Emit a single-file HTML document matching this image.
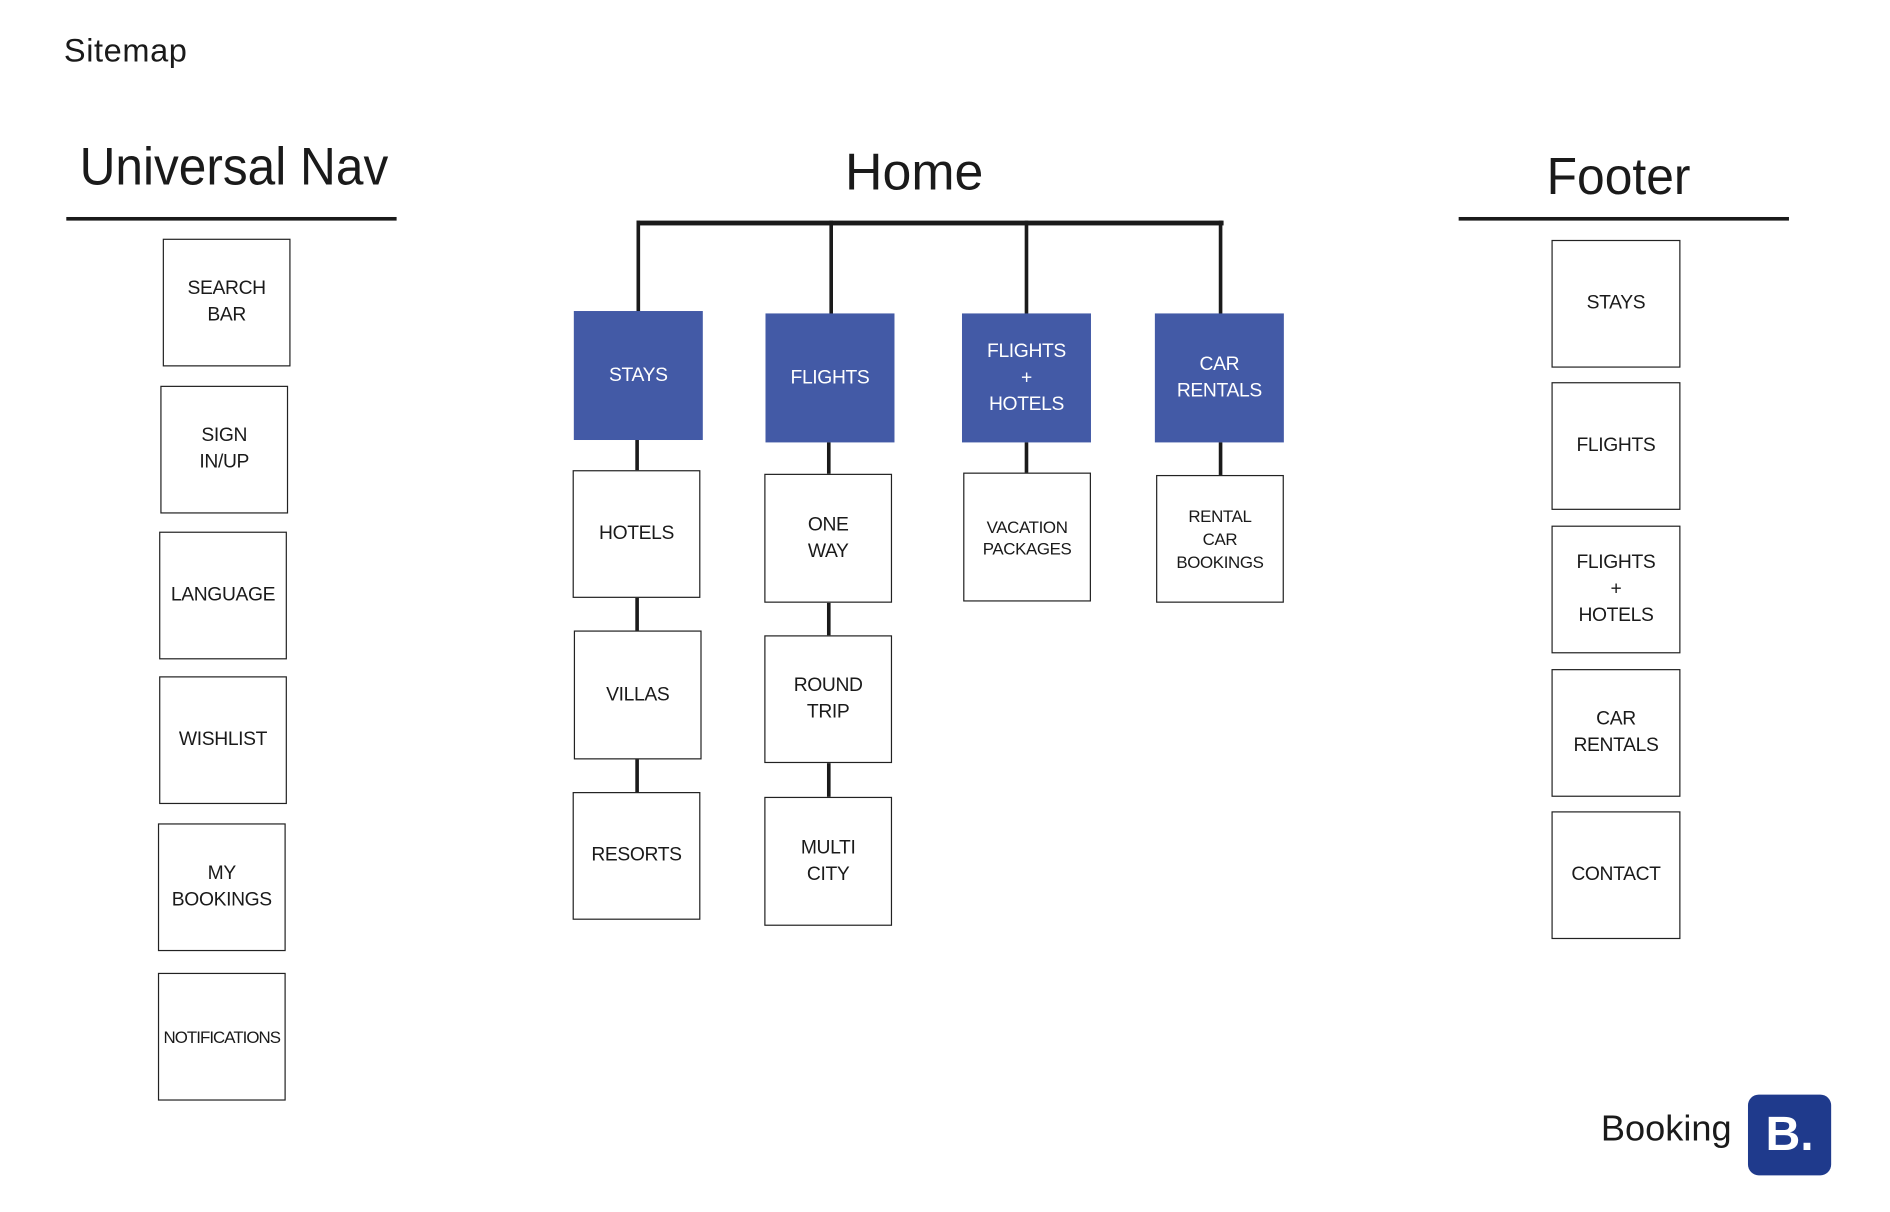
<!DOCTYPE html>
<html><head><meta charset="utf-8"><style>
html,body{margin:0;padding:0;background:#fff;}
body{width:1890px;height:1212px;overflow:hidden;position:relative;}
#w{position:absolute;left:0;top:0;width:1568px;height:1005px;transform:scale(1.2055);transform-origin:0 0;font-family:"Liberation Sans",sans-serif;color:#1a1a1a;}
.t{position:absolute;white-space:nowrap;}
.b{position:absolute;box-sizing:border-box;border:1.5px solid #222;background:#fff;display:flex;align-items:center;justify-content:center;text-align:center;font-size:16px;line-height:22px;letter-spacing:-0.3px;}
.u{background:#435aa6;border:none;color:#fff;}
.l{position:absolute;background:#1a1a1a;}
</style></head><body><div id="w">
<div class="t" style="left:53px;top:27px;font-size:27px;letter-spacing:0.5px;">Sitemap</div>
<div class="t" style="left:66px;top:114px;font-size:44px;transform:scaleX(0.935);transform-origin:0 0;">Universal Nav</div>
<div class="l" style="left:55px;top:180px;width:274px;height:3px;"></div>
<div class="t" style="left:701px;top:119px;font-size:43px;">Home</div>
<div class="t" style="left:1283px;top:123px;font-size:43px;transform:scaleX(0.96);transform-origin:0 0;">Footer</div>
<div class="l" style="left:1210px;top:180px;width:274px;height:3px;"></div>

<div class="b" style="left:135px;top:198px;width:106px;height:106px;">SEARCH<br>BAR</div>
<div class="b" style="left:133px;top:320px;width:106px;height:106px;">SIGN<br>IN/UP</div>
<div class="b" style="left:132px;top:441px;width:106px;height:106px;">LANGUAGE</div>
<div class="b" style="left:132px;top:561px;width:106px;height:106px;">WISHLIST</div>
<div class="b" style="left:131px;top:683px;width:106px;height:106px;">MY<br>BOOKINGS</div>
<div class="b" style="left:131px;top:807px;width:106px;height:106px;font-size:14px;letter-spacing:-0.8px;">NOTIFICATIONS</div>

<div class="l" style="left:528px;top:183px;width:487px;height:4px;"></div>
<div class="l" style="left:528px;top:183px;width:3px;height:76px;"></div>
<div class="l" style="left:688px;top:183px;width:3px;height:78px;"></div>
<div class="l" style="left:850px;top:183px;width:3px;height:78px;"></div>
<div class="l" style="left:1011px;top:183px;width:3px;height:78px;"></div>

<div class="b u" style="left:476px;top:258px;width:107px;height:107px;">STAYS</div>
<div class="b u" style="left:635px;top:260px;width:107px;height:107px;">FLIGHTS</div>
<div class="b u" style="left:798px;top:260px;width:107px;height:107px;">FLIGHTS<br>+<br>HOTELS</div>
<div class="b u" style="left:958px;top:260px;width:107px;height:107px;">CAR<br>RENTALS</div>

<div class="l" style="left:527px;top:365px;width:3px;height:26px;"></div>
<div class="l" style="left:527px;top:496px;width:3px;height:28px;"></div>
<div class="l" style="left:527px;top:630px;width:3px;height:28px;"></div>
<div class="l" style="left:686px;top:367px;width:3px;height:27px;"></div>
<div class="l" style="left:686px;top:500px;width:3px;height:28px;"></div>
<div class="l" style="left:686px;top:633px;width:3px;height:29px;"></div>
<div class="l" style="left:850px;top:367px;width:3px;height:26px;"></div>
<div class="l" style="left:1011px;top:367px;width:3px;height:28px;"></div>

<div class="b" style="left:475px;top:390px;width:106px;height:106px;">HOTELS</div>
<div class="b" style="left:476px;top:523px;width:106px;height:107px;">VILLAS</div>
<div class="b" style="left:475px;top:657px;width:106px;height:106px;">RESORTS</div>
<div class="b" style="left:634px;top:393px;width:106px;height:107px;">ONE<br>WAY</div>
<div class="b" style="left:634px;top:527px;width:106px;height:106px;">ROUND<br>TRIP</div>
<div class="b" style="left:634px;top:661px;width:106px;height:107px;">MULTI<br>CITY</div>
<div class="b" style="left:799px;top:392px;width:106px;height:107px;font-size:14px;line-height:18px;">VACATION<br>PACKAGES</div>
<div class="b" style="left:959px;top:394px;width:106px;height:106px;font-size:14px;line-height:19px;">RENTAL<br>CAR<br>BOOKINGS</div>

<div class="b" style="left:1287px;top:199px;width:107px;height:106px;">STAYS</div>
<div class="b" style="left:1287px;top:317px;width:107px;height:106px;">FLIGHTS</div>
<div class="b" style="left:1287px;top:436px;width:107px;height:106px;">FLIGHTS<br>+<br>HOTELS</div>
<div class="b" style="left:1287px;top:555px;width:107px;height:106px;">CAR<br>RENTALS</div>
<div class="b" style="left:1287px;top:673px;width:107px;height:106px;">CONTACT</div>

<div class="t" style="left:1328px;top:920px;font-size:30px;">Booking</div>
<div style="position:absolute;left:1450px;top:908px;width:69px;height:67px;background:#1f3a8c;border-radius:9px;color:#fff;font-weight:bold;font-size:40px;display:flex;align-items:center;justify-content:center;">B.</div>
</div></body></html>
